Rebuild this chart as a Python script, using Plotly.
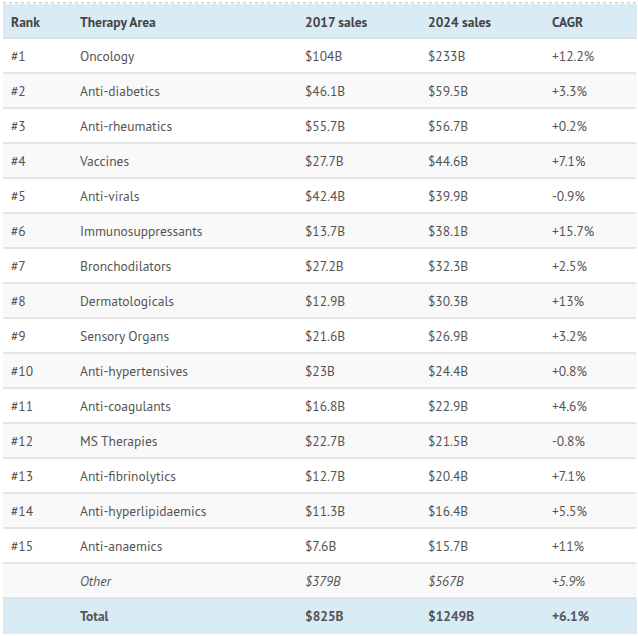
import plotly.graph_objects as go

# top 15 therapy areas by worldwide prescription sales
ranks = ["#%d" % i for i in range(1, 16)] + ["", ""]
areas = ["Oncology", "Anti-diabetics", "Anti-rheumatics", "Vaccines", "Anti-virals",
         "Immunosuppressants", "Bronchodilators", "Dermatologicals", "Sensory Organs",
         "Anti-hypertensives", "Anti-coagulants", "MS Therapies", "Anti-fibrinolytics",
         "Anti-hyperlipidaemics", "Anti-anaemics", "Other", "Total"]
sales_2017 = [104, 46.1, 55.7, 27.7, 42.4, 13.7, 27.2, 12.9, 21.6, 23, 16.8, 22.7, 12.7, 11.3, 7.6, 379, 825]
sales_2024 = [233, 59.5, 56.7, 44.6, 39.9, 38.1, 32.3, 30.3, 26.9, 24.4, 22.9, 21.5, 20.4, 16.4, 15.7, 567, 1249]
cagr = [12.2, 3.3, 0.2, 7.1, -0.9, 15.7, 2.5, 13, 3.2, 0.8, 4.6, -0.8, 7.1, 5.5, 11, 5.9, 6.1]

headers = ["Rank", "Therapy Area", "2017 sales", "2024 sales", "CAGR"]

n = len(areas)
W, H = 638, 636
TOP, HEAD_H, ROW_H = 4, 34, 35
TEXT_SHIFT = 1  # px, nudges the text layer down inside the cells
BLUE = "#d9ebf5"
FONT = "PT Sans, Liberation Sans, Arial"
widths = [69, 225, 123, 124, 92]


def style(txt, i):
    # wrap every cell in a tag so all rows get the same vertical text placement
    if areas[i] == "Other":
        return "<i>" + txt + "</i>"
    if areas[i] == "Total":
        return "<b>" + txt + "</b>"
    return "<span>" + txt + "</span>"


cols = [
    ranks,
    areas,
    ["$%sB" % format(v, "g") for v in sales_2017],
    ["$%sB" % format(v, "g") for v in sales_2024],
    ["%s%%" % format(v, "+g") for v in cagr],
]
cols = [[style(t, i) for i, t in enumerate(c)] for c in cols]

row_fill = []
for i in range(n):
    if areas[i] == "Total":
        row_fill.append(BLUE)
    elif i % 2 == 1:
        row_fill.append("#f9f9f9")
    else:
        row_fill.append("#ffffff")
fills = [row_fill] * len(cols)
plot_h = H - TOP
clear = "rgba(0,0,0,0)"

fig = go.Figure()
# background layer: fills only
fig.add_trace(go.Table(
    columnwidth=widths,
    header=dict(values=[""] * len(headers), fill_color=BLUE,
                line=dict(color=BLUE, width=1), height=HEAD_H),
    cells=dict(values=[[""] * n for _ in cols], fill_color=fills,
               line=dict(color=fills, width=1), height=ROW_H),
))
# text layer
fig.add_trace(go.Table(
    columnwidth=widths,
    domain=dict(x=[0, 1], y=[0, 1 - TEXT_SHIFT / plot_h]),
    header=dict(values=["<b>%s</b>" % h for h in headers],
                fill_color=clear, line=dict(color=clear, width=0),
                align="left", height=HEAD_H,
                font=dict(family=FONT, size=13.5, color="#444")),
    cells=dict(values=cols, fill_color=clear, line=dict(color=clear, width=0),
               align="left", height=ROW_H,
               font=dict(family=FONT, size=13.5, color="#555")),
))

# horizontal row separators (the table has no vertical rules)
shapes = []
for k in range(n):
    y = 1 - (HEAD_H + k * ROW_H) / plot_h
    shapes.append(dict(type="line", xref="paper", yref="paper", x0=0, x1=1, y0=y, y1=y,
                       line=dict(color="#dcdcdc", width=1.5)))
shapes.append(dict(type="line", xref="paper", yref="paper", x0=0, x1=1, y0=1.002, y1=1.002,
                   line=dict(color="#bbbbbb", width=1, dash="dot")))

fig.update_layout(width=W, height=H, margin=dict(l=3, r=2, t=TOP, b=0),
                  paper_bgcolor="white", shapes=shapes)
fig.write_html("out.html", config={"displayModeBar": False},
               post_script="document.body.style.margin='0';")
